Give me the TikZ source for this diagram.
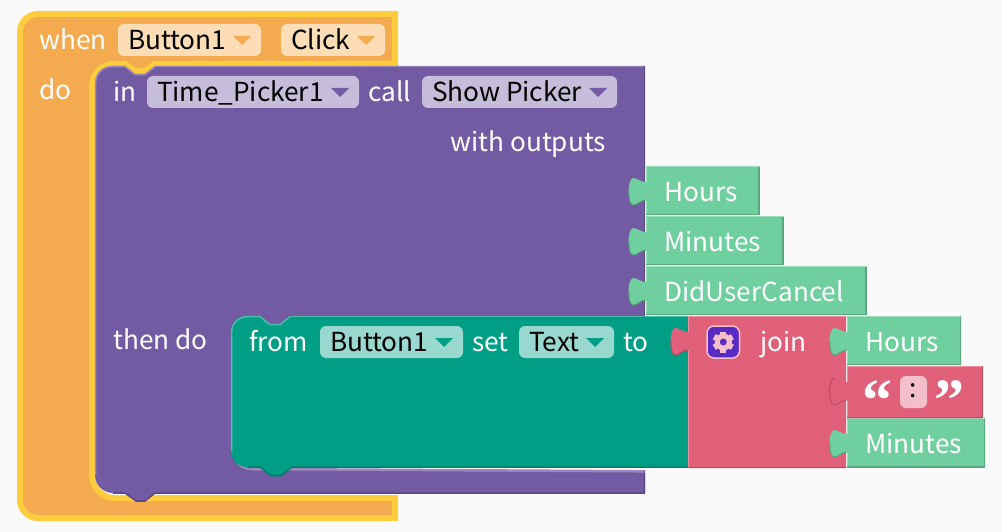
\documentclass[tikz,border=0pt]{standalone}
\usepackage{fontspec}
\setmainfont{Noto Sans CJK SC}
\newfontfamily\quotefont{Liberation Serif}
\definecolor{bgc}{HTML}{FAFAFA}
\definecolor{ylw}{HTML}{FFCC3D}
\definecolor{org}{HTML}{F4AB4F}
\definecolor{orgf}{HTML}{FCDDB6}
\definecolor{pur}{HTML}{725BA3}
\definecolor{purl}{HTML}{9A88BC}
\definecolor{purd}{HTML}{5B4882}
\definecolor{purf}{HTML}{C6BDDA}
\definecolor{tea}{HTML}{009E85}
\definecolor{teal2}{HTML}{4DBBA9}
\definecolor{tead}{HTML}{007E6A}
\definecolor{teaf}{HTML}{99D8CE}
\definecolor{grn}{HTML}{6FCF9F}
\definecolor{grnl}{HTML}{9ADDBC}
\definecolor{grnd}{HTML}{59A67F}
\definecolor{red}{HTML}{E0607A}
\definecolor{redl}{HTML}{EA90A2}
\definecolor{redd}{HTML}{B34D62}
\definecolor{redf}{HTML}{F3BFCA}
\definecolor{gear}{HTML}{5A2BC4}
\tikzset{
  wt/.style={text=white,font=\fontsize{26.2}{27}\selectfont,inner sep=0pt,anchor=base west,xshift=-0.8pt},
  bk/.style={text=black,font=\fontsize{26.2}{27}\selectfont,inner sep=0pt,anchor=base west,xshift=-1.2pt},
  qt/.style={text=white,font=\quotefont\bfseries\fontsize{60}{60}\selectfont,inner sep=0pt,anchor=base},
  edge/.style={line width=1.5pt},
}
% puzzle tab: #1 = x of the block edge, #2 = y of the top of the tab
\newcommand{\puz}[2]{-- (#1,#2+4) .. controls (#1-6,#2+4) and (#1-8,#2) .. (#1-13,#2) .. controls (#1-19,#2+2) and (#1-19,#2+25) .. (#1-13,#2+27) .. controls (#1-8,#2+27) and (#1-6,#2+22) .. (#1,#2+22)}
\newcommand{\puzlow}[2]{(#1-17,#2+13.5) .. controls (#1-17,#2+22) and (#1-16,#2+26) .. (#1-13,#2+27) .. controls (#1-8,#2+27) and (#1-6,#2+22) .. (#1,#2+22)}
\newcommand{\puzall}[2]{(#1-13,#2) .. controls (#1-19,#2+2) and (#1-19,#2+25) .. (#1-13,#2+27) .. controls (#1-8,#2+27) and (#1-6,#2+22) .. (#1,#2+22)}
\begin{document}
\begin{tikzpicture}[x=1pt,y=-1pt]
\useasboundingbox (0,0) rectangle (1002,532);
\fill[bgc] (0,0) rectangle (1002,532);
% orange event block
\draw[draw=ylw,line width=6pt,fill=org,miter limit=10]
  (395,14) -- (38,14) arc[start angle=270,end angle=180,radius=18] -- (20,500)
  arc[start angle=180,end angle=90,radius=18] -- (395,518) -- (395,498) -- (115,498)
  arc[start angle=90,end angle=180,radius=23] -- (92,86)
  arc[start angle=180,end angle=270,radius=22] -- (125,64) -- (135,71) -- (145,71) -- (155,64) -- (395,64) -- cycle;
% white sliver inside the lower inner corner
\fill[white] (95,473) arc[start angle=180,end angle=90,radius=22] -- (130,495) -- (130,470) -- cycle;
% purple block
\path[fill=pur] (645,66) -- (155,66) -- (145,74) -- (135,74) -- (125,66) -- (112,66)
  arc[start angle=270,end angle=180,radius=17] -- (95,475)
  arc[start angle=180,end angle=90,radius=18] -- (125,493) -- (136,501) -- (145,501) -- (155,493) -- (645,493) -- (645,470) -- (252,470)
  arc[start angle=90,end angle=180,radius=20] -- (232,330) -- (645,316) -- cycle;
\draw[purl,edge] (155,66.7) -- (145,74.7) -- (135,74.7) -- (125,66.7) -- (112,66.7) arc[start angle=270,end angle=180,radius=16.3] -- (95.7,475);
\draw[purl,edge] (155,66.7) -- (643,66.7);
\draw[purd,edge] (113,493) -- (125,493) -- (136,501) -- (145,501) -- (155,493) -- (644.3,493) -- (644.3,473);
\draw[purd,edge] (644.3,67) -- (644.3,316);
% white sliver below the teal block and its highlight
\fill[white] (232,450) arc[start angle=180,end angle=90,radius=20] -- (645,470) -- (645,466) -- (240,466) -- cycle;
\draw[purl,line width=2.5pt] (233.2,450) arc[start angle=180,end angle=90,radius=19] -- (644,471.3);
% teal block
\path[fill=tea] (688,316) -- (290,316) -- (280,324) -- (270,324) -- (260,316) -- (247,316)
  arc[start angle=270,end angle=180,radius=16] -- (231,451)
  arc[start angle=180,end angle=90,radius=16] -- (260,467) -- (271,476) -- (281,476) -- (292,467) -- (688,467) -- cycle;
\draw[teal2,edge] (290,316.7) -- (280,324.7) -- (270,324.7) -- (260,316.7) -- (247,316.7) arc[start angle=270,end angle=180,radius=15.3] -- (231.7,451);
\draw[teal2,edge] (290,316.7) -- (688,316.7);
\draw[tead,edge] (247,467) -- (260,467) -- (271,475.5) -- (281,475.5) -- (292,467) -- (688,467);
% red join block
\path[fill=red] (688,316) \puz{688}{328} -- (688,468) -- (846,468) -- (846,316) -- cycle;
\draw[redl,edge] (688,316.7) -- (846,316.7);
\draw[redl,edge] (688.7,350) -- (688.7,467);
\draw[redl,edge] (688.7,316.7) -- (688.7,332);
\draw[redd,edge] (688,467.5) -- (846,467.5);
\draw[redd,line width=1pt] \puzlow{688}{328};
% green value blocks
\foreach \nm/\x/\y/\r/\b/\t in {Ho/646/166/759.5/215/178, Mi/646/216/783.5/265/228, Di/646/266/866.5/315/278, Hb/847/316/961/365/328, Mb/847/418/985/467.5/430}{
  \path[fill=grn] (\x,\y) \puz{\x}{\t} -- (\x,\b) -- (\r,\b) -- (\r,\y) -- cycle;
  \draw[grnl,edge] (\x,\y+.7) -- (\r-1,\y+.7);
  \draw[grnl,edge] (\x+.7,\y) -- (\x+.7,\t+4);
  \draw[grnl,edge] (\x+.7,\t+22) -- (\x+.7,\b);
  \draw[grnd,edge] (\x,\b-.5) -- (\r-.5,\b-.5) -- (\r-.5,\y+1);
  \draw[grnd,line width=1pt] \puzlow{\x}{\t};
}
% string block
\path[fill=red] (847,366) \puz{847}{378} -- (847,418) -- (983,418) -- (983,366) -- cycle;
\draw[redl,edge] (847,366.7) -- (982,366.7);
\draw[redl,edge] (847.7,366) -- (847.7,382);
\draw[redl,edge] (847.7,400) -- (847.7,418);
\draw[redd,edge] (847,417.3) -- (982.3,417.3) -- (982.3,367);
\draw[redd,line width=1pt] \puzall{847}{378};
% labels
\node[wt] (when) at (40,49.7) {when};
\node[wt] (do) at (40,99.7) {do};
\node[wt] (in) at (114,101.7) {in};
\node[wt] (call) at (369,101.7) {call};
\node[wt] (outs) at (451,151.7) {with outputs};
\node[wt] (thendo) at (114,349.7) {then do};
\node[wt] (from) at (250,351.7) {from};
\node[wt] (set) at (473,351.7) {set};
\node[wt] (to) at (624,351.7) {to};
\node[wt] (join) at (761,351.7) {join};
\node[wt] (h1) at (665,201.7) {Hours};
\node[wt] (m1) at (665,251.7) {Minutes};
\node[wt] (d1) at (665,301.7) {DidUserCancel};
\node[wt] (h2) at (866,351.7) {Hours};
\node[wt] (m2) at (866,453.7) {Minutes};
% fields
\foreach \a/\b/\c/\d/\col/\n/\lab/\tx/\ty/\dc in {
 118/24/261/56/orgf/fa/Button1/129/49.7/org,
 281/24/385/56/orgf/fb/Click/292/49.7/org,
 147/76/359/108/purf/fc/Time\_Picker1/158/101.7/pur,
 422/76/617/108/purf/fd/Show Picker/433/101.7/pur,
 320/326/463/358/teaf/fe/Button1/331/351.7/tea,
 519/326/614/358/teaf/ff/Text/530/351.7/tea}{
  \fill[\col,rounded corners=6pt] (\a,\b) rectangle (\c,\d);
  \node[bk] (\n) at (\tx,\ty) {\lab};
  \fill[\dc] (\c-28,\b+12) -- (\c-10,\b+12) -- (\c-19,\b+21) -- cycle;
}
% mutator icon
\fill[gear,draw=redf,line width=1.5pt,rounded corners=7pt] (707,326) rectangle (739.5,358);
\draw[redf,line width=5pt] (723.3,342) circle[radius=6];
\foreach \ang in {0,60,...,300}{
  \fill[redf,rotate around={\ang:(723.3,342)}] (720.3,331.5) rectangle (726.3,336);
}
% string contents
\fill[redf,rounded corners=6pt] (900,376) rectangle (927,408);
\node[bk,anchor=center,xshift=1.2pt] (colon) at (913.5,391) {:};
\node[qt] (lq) at (877,420) {“};
\node[qt] (rq) at (949,420) {”};
\end{tikzpicture}
\end{document}
